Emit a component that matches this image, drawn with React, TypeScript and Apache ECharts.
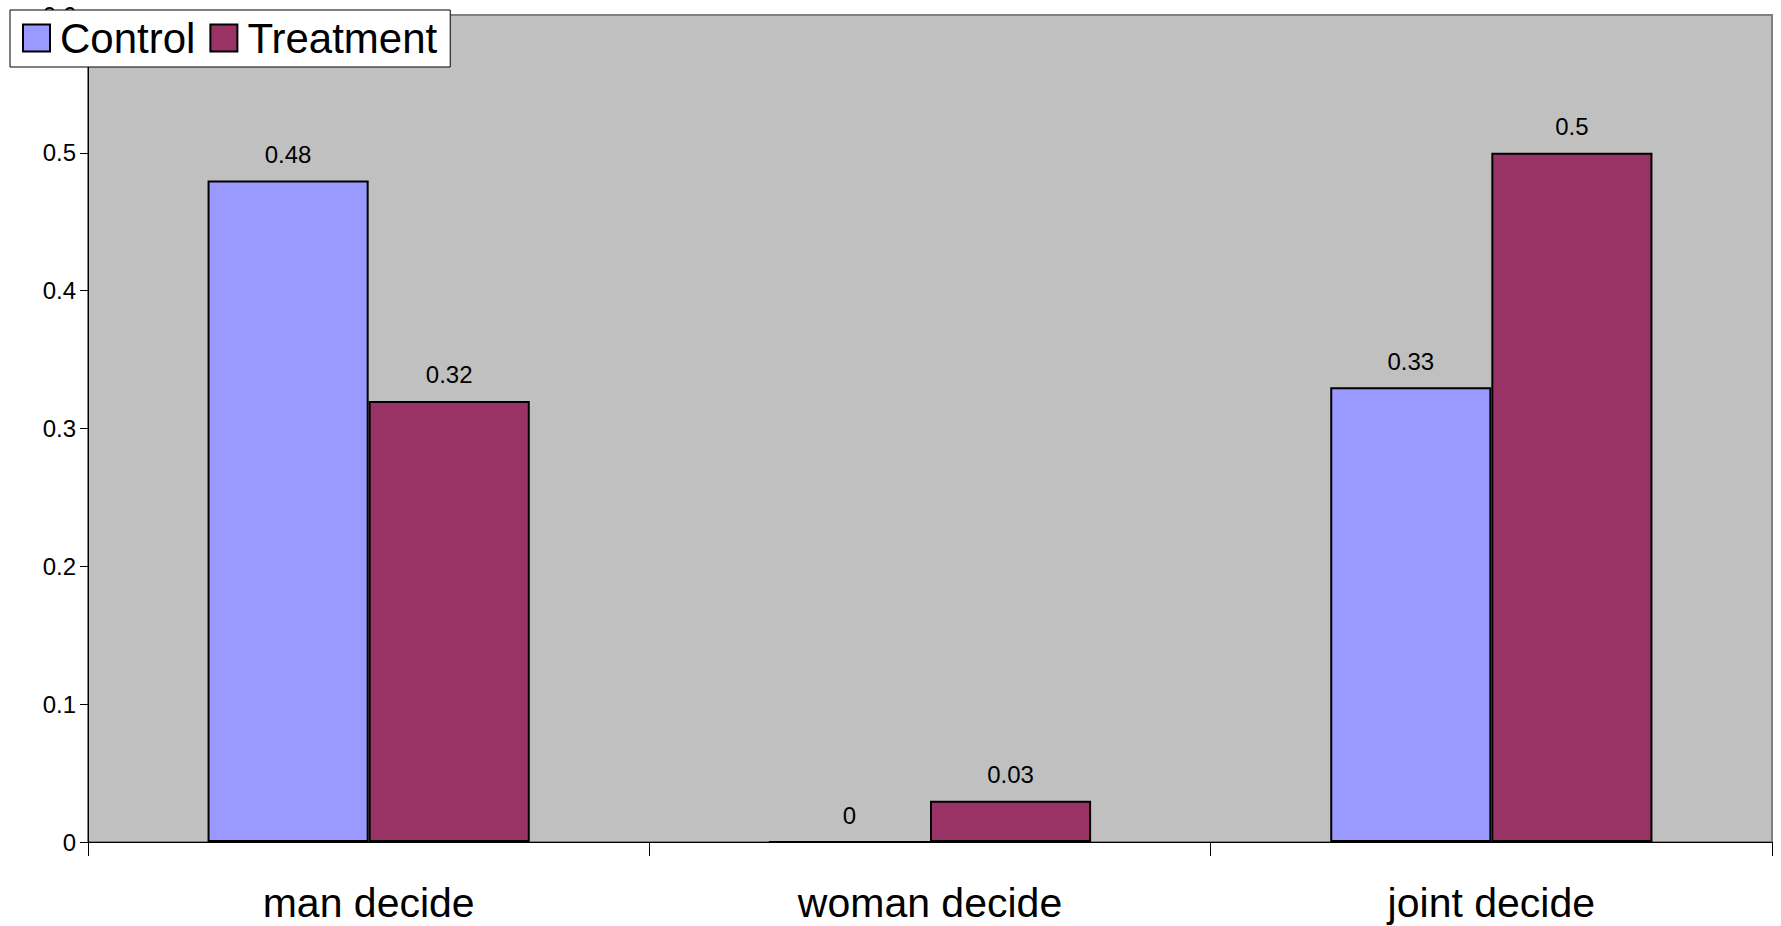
import React, { useEffect, useRef } from "react";
import * as echarts from "echarts";

const categories = ["man decide", "woman decide", "joint decide"];
const controlValues = [0.48, 0, 0.33];
const treatmentValues = [0.32, 0.03, 0.5];
const seriesNames = ["Control", "Treatment"];

const FONT = "'Liberation Sans', Arial, sans-serif";

export default function App() {
  const ref = useRef<HTMLDivElement>(null);

  useEffect(() => {
    document.body.style.margin = "0";
    const chart = echarts.init(ref.current!, null, { renderer: "svg" });
    const label = {
      show: true,
      position: "top",
      distance: 14,
      fontSize: 24,
      color: "#000",
      fontFamily: FONT,
    };
    chart.setOption({
      animation: false,
      backgroundColor: "#ffffff",
      textStyle: { fontFamily: FONT },
      grid: {
        left: 88,
        right: 9,
        top: 15,
        bottom: 84,
        show: true,
        backgroundColor: "#C0C0C0",
        borderColor: "#808080",
        borderWidth: 2,
      },
      legend: {
        left: 10,
        top: 10,
        orient: "horizontal",
        backgroundColor: "#ffffff",
        borderColor: "#000000",
        borderWidth: 1,
        padding: [7, 13, 8, 12],
        itemWidth: 27,
        itemHeight: 27,
        itemGap: 14,
        icon: "rect",
        textStyle: { fontSize: 42, color: "#000", fontFamily: FONT, padding: [0, 0, 0, 5] },
        data: seriesNames,
        z: 10,
      },
      xAxis: {
        type: "category",
        data: categories,
        axisLine: { lineStyle: { color: "#000", width: 1 } },
        axisTick: { show: true, length: 14, lineStyle: { color: "#000" } },
        axisLabel: { fontSize: 41, color: "#000", margin: 40, fontFamily: FONT },
        splitLine: { show: false },
      },
      yAxis: {
        type: "value",
        min: 0,
        max: 0.6,
        interval: 0.1,
        axisLine: { show: true, lineStyle: { color: "#000", width: 1 } },
        axisTick: { show: true, length: 8, lineStyle: { color: "#000" } },
        axisLabel: { fontSize: 24, color: "#000", margin: 12, fontFamily: FONT },
        splitLine: { show: false },
      },
      series: [
        {
          name: seriesNames[0],
          type: "bar",
          data: controlValues,
          barGap: "0%",
          barCategoryGap: "42.6%",
          itemStyle: { color: "#9999FF", borderColor: "#000", borderWidth: 2 },
          label,
        },
        {
          name: seriesNames[1],
          type: "bar",
          data: treatmentValues,
          barGap: "0%",
          barCategoryGap: "42.6%",
          itemStyle: { color: "#993366", borderColor: "#000", borderWidth: 2 },
          label,
        },
      ],
    });
    return () => chart.dispose();
  }, []);

  return (
    <div
      ref={ref}
      style={{ position: "absolute", left: 0, top: 0, width: 1781, height: 926 }}
    />
  );
}
